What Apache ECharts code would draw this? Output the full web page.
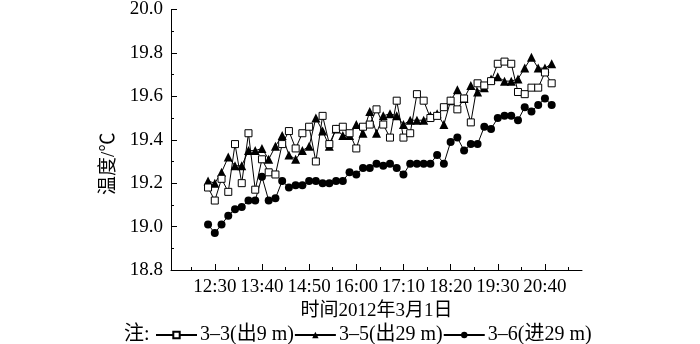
<!DOCTYPE html>
<html>
<head>
<meta charset="utf-8">
<script src="https://cdn.jsdelivr.net/npm/echarts@6/dist/echarts.min.js"></script>
<style>html,body{margin:0;padding:0;background:#fff}#c{width:700px;height:344px}</style>
</head>
<body>
<div id="c"></div>
<script>
var times = ["12:20","12:30","12:40","12:50","13:00","13:10","13:20","13:30","13:40","13:50",
  "14:00","14:10","14:20","14:30","14:40","14:50","15:00","15:10","15:20","15:30",
  "15:40","15:50","16:00","16:10","16:20","16:30","16:40","16:50","17:00","17:10",
  "17:20","17:30","17:40","17:50","18:00","18:10","18:20","18:30","18:40","18:50",
  "19:00","19:10","19:20","19:30","19:40","19:50","20:00","20:10","20:20","20:30",
  "20:40","20:50"];
var s33 = [19.18,19.12,19.22,19.16,19.38,19.20,19.43,19.17,19.31,19.25,
  19.24,19.38,19.44,19.36,19.43,19.46,19.30,19.51,19.38,19.45,
  19.46,19.43,19.36,19.46,19.47,19.54,19.47,19.41,19.58,19.41,
  19.43,19.61,19.58,19.50,19.51,19.55,19.58,19.54,19.59,19.48,
  19.66,19.65,19.67,19.75,19.76,19.75,19.62,19.61,19.64,19.64,
  19.71,19.66];
var s35 = [19.21,19.20,19.25,19.32,19.28,19.28,19.35,19.35,19.36,19.31,
  19.37,19.42,19.33,19.31,19.35,19.37,19.50,19.44,19.37,19.45,
  19.42,19.42,19.47,19.43,19.53,19.43,19.51,19.52,19.51,19.47,
  19.49,19.49,19.49,19.51,19.52,19.47,19.58,19.63,19.59,19.65,
  19.62,19.64,19.68,19.69,19.67,19.67,19.68,19.73,19.78,19.73,
  19.73,19.75];
var s36 = [19.01,18.97,19.01,19.05,19.08,19.09,19.12,19.12,19.23,19.12,
  19.13,19.21,19.18,19.19,19.19,19.21,19.21,19.20,19.20,19.21,
  19.21,19.25,19.24,19.27,19.27,19.29,19.28,19.29,19.27,19.24,
  19.29,19.29,19.29,19.29,19.33,19.29,19.39,19.41,19.35,19.38,
  19.38,19.46,19.45,19.50,19.51,19.51,19.49,19.55,19.53,19.56,
  19.59,19.56];
var seriesNames = ["3\u20133(出9 m)","3\u20135(出29 m)","3\u20136(进29 m)"];
var tickLabels = ["12:30","13:40","14:50","16:00","17:10","18:20","19:30","20:40"];
var minorTickTimes = ["11:55","13:05","14:15","15:25","16:35","17:45","18:55","20:05","21:15"];
var xRange = ["11:25","21:35"];
var yTicks = ["18.8","19.0","19.2","19.4","19.6","19.8","20.0"];

function toMin(s){var p=s.split(":");return (+p[0])*60+(+p[1]);}
function fmt(m){var h=Math.floor(m/60),mm=Math.round(m-h*60);return h+":"+(mm<10?"0":"")+mm;}
function pairs(arr){return times.map(function(t,i){return [toMin(t),arr[i]];});}

var FONT = "'Liberation Serif','Noto Sans CJK SC',serif";
var FS = 19;
var chart = echarts.init(document.getElementById('c'));
var xMin = toMin(xRange[0]), xMax = toMin(xRange[1]);
chart.setOption({
  animation:false,
  backgroundColor:'#fff',
  textStyle:{fontFamily:FONT,color:'#000'},
  grid:{left:171,top:8,right:118,bottom:74,containLabel:false},
  title:{text:'注:',left:124,top:325,padding:0,textStyle:{fontFamily:FONT,fontSize:20,fontWeight:'normal',color:'#000'}},
  legend:{
    left:155,top:325,padding:0,itemGap:0,itemWidth:41,itemHeight:8,
    textStyle:{fontFamily:FONT,fontSize:20,color:'#000',padding:[0,0,0,-2]},
    data:seriesNames
  },
  xAxis:[{
    type:'value',min:xMin,max:xMax,
    name:'时间2012年3月1日',nameLocation:'middle',nameGap:31,
    nameTextStyle:{fontFamily:FONT,fontSize:FS,color:'#000'},
    axisLine:{lineStyle:{color:'#000',width:1}},
    axisTick:{inside:true,length:6,customValues:tickLabels.map(toMin),lineStyle:{color:'#000'}},
    axisLabel:{customValues:tickLabels.map(toMin),formatter:function(v){return fmt(v);},fontFamily:FONT,fontSize:FS,color:'#000',margin:8},
    splitLine:{show:false}
  },{
    type:'value',min:xMin,max:xMax,position:'bottom',
    axisLine:{show:false},
    axisTick:{inside:true,length:3,customValues:minorTickTimes.map(toMin),lineStyle:{color:'#000'}},
    axisLabel:{show:false},splitLine:{show:false}
  }],
  yAxis:{
    type:'value',min:+yTicks[0],max:+yTicks[yTicks.length-1],interval:0.2,
    name:'温度/℃',nameLocation:'middle',nameGap:43,
    nameTextStyle:{fontFamily:FONT,fontSize:FS,color:'#000',padding:[0,48,0,0]},
    axisLine:{show:true,lineStyle:{color:'#000',width:1}},
    axisTick:{show:true,inside:true,length:6,lineStyle:{color:'#000'}},
    minorTick:{show:true,splitNumber:2,length:3,lineStyle:{color:'#000'}},
    axisLabel:{formatter:function(v){return v.toFixed(1);},fontFamily:FONT,fontSize:FS,color:'#000',margin:8},
    splitLine:{show:false}
  },
  series:[
    {name:seriesNames[1],type:'line',data:pairs(s35),symbol:'triangle',symbolSize:9,showAllSymbol:true,
      lineStyle:{color:'#000',width:1},itemStyle:{color:'#000'},z:2},
    {name:seriesNames[0],type:'line',data:pairs(s33),symbol:'rect',symbolSize:7,showAllSymbol:true,
      lineStyle:{color:'#000',width:1},itemStyle:{color:'#fff',borderColor:'#000',borderWidth:1},z:3},
    {name:seriesNames[2],type:'line',data:pairs(s36),symbol:'circle',symbolSize:8,showAllSymbol:true,
      lineStyle:{color:'#000',width:1},itemStyle:{color:'#000'},z:2}
  ]
});
</script>
</body>
</html>
